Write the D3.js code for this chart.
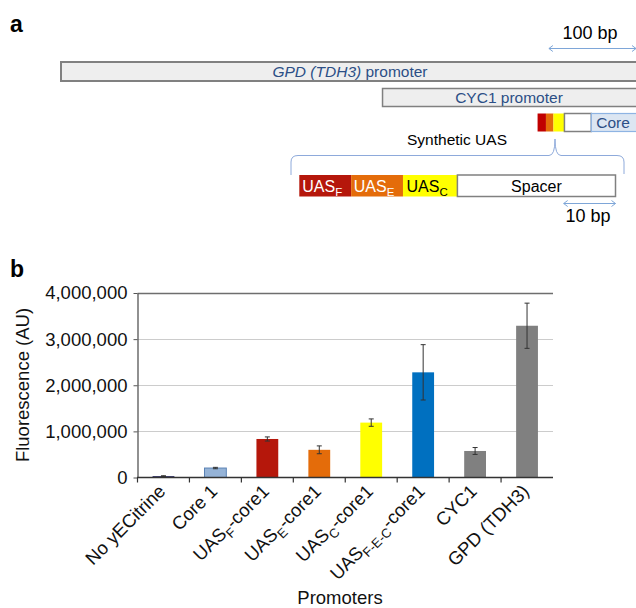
<!DOCTYPE html>
<html>
<head>
<meta charset="utf-8">
<script src="https://cdn.jsdelivr.net/npm/d3@7"></script>
<style>
  html, body { margin: 0; padding: 0; background: #fff; }
  svg { display: block; font-family: "Liberation Sans", Arial, Helvetica, sans-serif; }
</style>
</head>
<body>
<svg id="fig" width="636" height="608"></svg>
<script>
// ---------- Panel b data: promoter strength ----------
// Labels use "_{...}" to mark a subscript.
const promoters = [
  "No yECitrine", "Core 1", "UAS_{F}-core1", "UAS_{E}-core1",
  "UAS_{C}-core1", "UAS_{F-E-C}-core1", "CYC1", "GPD (TDH3)"
];
const fluorescence = [30000, 205000, 835000, 600000, 1190000, 2280000, 575000, 3290000];
const fluorescenceErr = [8000, 15000, 45000, 85000, 80000, 600000, 75000, 490000];
const barColors = ["#2b2b63", "#95b3d7", "#b5170b", "#e46c0a", "#ffff00", "#0070c0", "#808080", "#808080"];
const yTicks = [0, 1000000, 2000000, 3000000, 4000000];

// ---------- Panel a data: promoter architecture (bp, relative to 3' end) ----------
const nativePromoters = ["GPD (TDH3) promoter", "CYC1 promoter"];
const nativeStarts = [-655, -290];
const uasNames = ["UAS_{F}", "UAS_{E}", "UAS_{C}", "Spacer"];
const uasLengths = [10, 10, 10.5, 30.5];
const uasFills = ["#b5170b", "#e46c0a", "#ffff00", "#ffffff"];
const uasText = ["#ffffff", "#ffffff", "#000000", "#000000"];
const hybridSegments = [-114, -104.5, -96, -83.5, -53, 0]; // F, E, C, spacer, core boundaries

const svg = d3.select("#fig");
const FONT = "\"Liberation Sans\", Arial, Helvetica, sans-serif";

// Writes "A_{b}c" style labels as tspans, subscripts lowered and shrunk.
function richText(sel, label, size, subSize, subShift) {
  const parts = label.split(/(_\{[^}]*\})/).filter(s => s.length);
  let lowered = false;
  parts.forEach(p => {
    if (p.startsWith("_{")) {
      sel.append("tspan").attr("font-size", subSize).attr("dy", subShift).text(p.slice(2, -1));
      lowered = true;
    } else {
      const t = sel.append("tspan").attr("font-size", size).text(p);
      if (lowered) { t.attr("dy", -subShift); lowered = false; }
    }
  });
}

// Double-headed scale arrow with open chevron heads
function scaleArrow(g, x0, x1, y, color) {
  g.append("line").attr("x1", x0).attr("x2", x1).attr("y1", y).attr("y2", y)
    .attr("stroke", color).attr("stroke-width", 1);
  g.append("path").attr("d", `M${x0 + 4},${y - 3}L${x0},${y}L${x0 + 4},${y + 3}`)
    .attr("fill", "none").attr("stroke", color).attr("stroke-width", 1);
  g.append("path").attr("d", `M${x1 - 4},${y - 3}L${x1},${y}L${x1 - 4},${y + 3}`)
    .attr("fill", "none").attr("stroke", color).attr("stroke-width", 1);
}

// ================= Panel a =================
const pa = svg.append("g");
pa.append("text").attr("x", 10).attr("y", 32).attr("font-size", 23).attr("font-weight", "bold").text("a");

const bp = d3.scaleLinear().domain([-655, 0]).range([61, 638]);
const arrowBlue = "#7ea6d8";

// 100 bp scale bar
scaleArrow(pa, bp(-100) - 1, bp(0) - 2, 48.5, arrowBlue);
pa.append("text").attr("x", 590).attr("y", 39).attr("text-anchor", "middle").attr("font-size", 18).text("100 bp");

// Native promoters
const rowY = [62, 88.5];
const rowH = [19, 18];
nativePromoters.forEach((name, i) => {
  pa.append("rect").attr("x", bp(nativeStarts[i])).attr("y", rowY[i])
    .attr("width", bp(0) + 4 - bp(nativeStarts[i])).attr("height", rowH[i])
    .attr("fill", "#eeeeee").attr("stroke", "#808080").attr("stroke-width", i === 0 ? 2 : 1.5);
});
const gpdText = pa.append("text").attr("x", 350).attr("y", 77).attr("text-anchor", "middle")
  .attr("font-size", 15.5).attr("fill", "#2c4f86");
gpdText.append("tspan").attr("font-style", "italic").text("GPD (TDH3)");
gpdText.append("tspan").text(" promoter");
pa.append("text").attr("x", 509).attr("y", 103).attr("text-anchor", "middle")
  .attr("font-size", 15.5).attr("fill", "#2c4f86").text("CYC1 promoter");

// Hybrid promoter: UAS F/E/C, spacer, core
const hybridFills = ["#c00000", "#e46c0a", "#ffff00", "#ffffff", "#dce6f2"];
const hy = 113.5, hh = 18;
for (let i = 0; i < hybridFills.length; i++) {
  const x0 = bp(hybridSegments[i]), x1 = bp(hybridSegments[i + 1]);
  const r = pa.append("rect").attr("x", x0).attr("y", hy).attr("width", i === 4 ? x1 + 4 - x0 : x1 - x0).attr("height", hh)
    .attr("fill", hybridFills[i]);
  if (i === 3) r.attr("stroke", "#808080").attr("stroke-width", 1.5);
  if (i === 4) r.attr("stroke", "#8eb4e3").attr("stroke-width", 1.2);
}
pa.append("text").attr("x", 613).attr("y", 128).attr("text-anchor", "middle")
  .attr("font-size", 15.5).attr("fill", "#2c4f86").text("Core");

pa.append("text").attr("x", 457).attr("y", 145).attr("text-anchor", "middle")
  .attr("font-size", 15.5).attr("fill", "#000").text("Synthetic UAS");

// Brace linking the UAS blocks to the expanded view
const braceColor = "#8eaadb";
pa.append("path")
  .attr("d", "M291,175 L291,162 Q291,155.5 298,155.5 L549,155.5 Q555,155.5 555,139 Q555,155.5 561,155.5 L617,155.5 Q624,155.5 624,162 L624,174")
  .attr("fill", "none").attr("stroke", braceColor).attr("stroke-width", 1);

// Expanded synthetic UAS
const uasStarts = d3.cumsum([0].concat(uasLengths));
const uasBp = d3.scaleLinear().domain([0, uasStarts[uasStarts.length - 1]]).range([299.3, 615.5]);
uasNames.forEach((name, i) => {
  const x0 = uasBp(uasStarts[i]), x1 = uasBp(uasStarts[i + 1]);
  const r = pa.append("rect").attr("x", x0).attr("y", 175).attr("width", x1 - x0).attr("height", 21.5)
    .attr("fill", uasFills[i]);
  if (i === 3) r.attr("stroke", "#808080").attr("stroke-width", 1.5);
  const t = pa.append("text").attr("x", (x0 + x1) / 2 + (i === 3 ? 0 : -3)).attr("y", 191.5).attr("text-anchor", "middle")
    .attr("fill", uasText[i]).attr("font-size", 16);
  richText(t, name, 16, 11.5, 4);
});

// 10 bp scale bar
scaleArrow(pa, uasBp(uasStarts[4] - 10), uasBp(uasStarts[4]), 203.5, arrowBlue);
pa.append("text").attr("x", 588).attr("y", 221.5).attr("text-anchor", "middle").attr("font-size", 18).text("10 bp");

// ================= Panel b =================
const pb = svg.append("g");
pb.append("text").attr("x", 10).attr("y", 277).attr("font-size", 23).attr("font-weight", "bold").text("b");

const plot = { left: 137.5, right: 553, top: 293, bottom: 477.5 };
const x = d3.scaleBand().domain(promoters).range([plot.left, plot.right]).paddingInner(0).paddingOuter(0);
const y = d3.scaleLinear().domain([0, 4000000]).range([plot.bottom, plot.top]);
const barW = x.bandwidth() * 0.42;

// Gridlines (top one darker, acting as frame)
pb.append("g").selectAll("line").data(yTicks.slice(1)).join("line")
  .attr("x1", plot.left).attr("x2", plot.right)
  .attr("y1", d => Math.round(y(d)) + 0.5).attr("y2", d => Math.round(y(d)) + 0.5)
  .attr("stroke", d => d === 4000000 ? "#6e6e6e" : "#cccccc").attr("stroke-width", d => d === 4000000 ? 1.5 : 1.2);

// Bars
pb.append("g").selectAll("rect").data(promoters).join("rect")
  .attr("x", d => x(d) + (x.bandwidth() - barW) / 2)
  .attr("width", barW)
  .attr("y", (d, i) => y(fluorescence[i]))
  .attr("height", (d, i) => plot.bottom - y(fluorescence[i]))
  .attr("fill", (d, i) => barColors[i])
  .attr("stroke", (d, i) => i === 1 ? "#5b82b5" : "none")
  .attr("stroke-width", 1);

// Error bars
const eg = pb.append("g").attr("stroke", "#333").attr("stroke-width", 1);
promoters.forEach((d, i) => {
  const cx = x(d) + x.bandwidth() / 2;
  const y0 = y(fluorescence[i] - fluorescenceErr[i]);
  const y1 = y(fluorescence[i] + fluorescenceErr[i]);
  eg.append("line").attr("x1", cx).attr("x2", cx).attr("y1", y0).attr("y2", y1);
  eg.append("line").attr("x1", cx - 2.5).attr("x2", cx + 2.5).attr("y1", y0).attr("y2", y0);
  eg.append("line").attr("x1", cx - 2.5).attr("x2", cx + 2.5).attr("y1", y1).attr("y2", y1);
});

// Y axis
const yAxis = pb.append("g").attr("transform", `translate(${plot.left},0)`)
  .call(d3.axisLeft(y).tickValues(yTicks).tickFormat(d3.format(",")).tickSize(4).tickPadding(6).tickSizeOuter(0));
yAxis.select(".domain").attr("stroke", "#555").attr("stroke-width", 1.3);
yAxis.selectAll(".tick line").attr("stroke", "#555");
yAxis.selectAll(".tick text").attr("font-size", 18.5).attr("font-family", FONT).attr("fill", "#111");

// X axis baseline and category dividers
pb.append("line").attr("x1", plot.left - 0.5).attr("x2", plot.right).attr("y1", plot.bottom).attr("y2", plot.bottom)
  .attr("stroke", "#333").attr("stroke-width", 1.5);
pb.append("g").selectAll("line").data(promoters).join("line")
  .attr("x1", d => x(d)).attr("x2", d => x(d))
  .attr("y1", plot.bottom).attr("y2", plot.bottom + 5)
  .attr("stroke", "#333").attr("stroke-width", 1.2);

// Rotated category labels
pb.append("g").selectAll("text").data(promoters).join("text")
  .attr("transform", d => `translate(${x(d) + x.bandwidth() / 2 + 3},${plot.bottom + 15}) rotate(-45)`)
  .attr("text-anchor", "end")
  .attr("font-size", 18.5)
  .attr("fill", "#111")
  .each(function (d) { richText(d3.select(this), d, 18.5, 13, 5); });

// Axis titles
pb.append("text").attr("transform", "translate(29,385) rotate(-90)").attr("text-anchor", "middle")
  .attr("font-size", 18.5).attr("fill", "#111").text("Fluorescence (AU)");
pb.append("text").attr("x", 340).attr("y", 604).attr("text-anchor", "middle")
  .attr("font-size", 18.5).attr("fill", "#111").text("Promoters");
</script>
</body>
</html>
